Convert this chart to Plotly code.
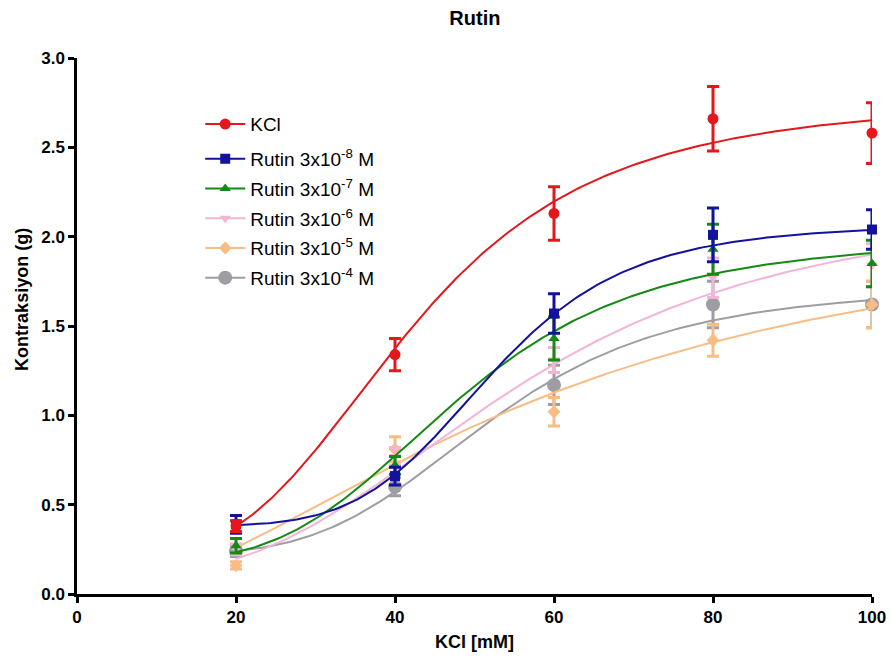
import numpy as np
import plotly.graph_objects as go

# ---- data ----
kcl_mM = [20, 40, 60, 80, 100]

series_names = ["KCl",
                "Rutin 3x10<sup>-8</sup> M",
                "Rutin 3x10<sup>-7</sup> M",
                "Rutin 3x10<sup>-6</sup> M",
                "Rutin 3x10<sup>-5</sup> M",
                "Rutin 3x10<sup>-4</sup> M"]

kcl_mean   = [0.38, 1.34, 2.13, 2.66, 2.58]
kcl_sem    = [0.03, 0.09, 0.15, 0.18, 0.17]
r8_mean    = [0.39, 0.66, 1.57, 2.01, 2.04]
r8_sem     = [0.05, 0.05, 0.11, 0.15, 0.11]
r7_mean    = [0.27, 0.72, 1.43, 1.93, 1.85]
r7_sem     = [0.04, 0.05, 0.12, 0.14, 0.13]
r6_mean    = [0.25, 0.77, 1.31, 1.77, 1.84]
r6_sem     = [0.03, 0.05, 0.07, 0.11, 0.12]
r5_mean    = [0.16, 0.81, 1.02, 1.42, 1.62]
r5_sem     = [0.02, 0.07, 0.08, 0.09, 0.13]
r4_mean    = [0.24, 0.60, 1.17, 1.62, 1.62]
r4_sem     = [0.03, 0.05, 0.11, 0.13, 0.13]

# fitted curve parameters (bottom, top, K, hill)
fit_bottom = [0.20, 0.38, 0.18, 0.10, 0.00, 0.22]
fit_top    = [2.77, 2.07, 2.00, 2.20, 2.15, 1.72]
fit_K      = [42, 52, 48, 55, 57, 52]
fit_hill   = [3.5, 6.0, 4.0, 3.0, 1.9, 4.5]

means = [kcl_mean, r8_mean, r7_mean, r6_mean, r5_mean, r4_mean]
sems = [kcl_sem, r8_sem, r7_sem, r6_sem, r5_sem, r4_sem]

colors = ["#e3171c", "#12129c", "#138a13", "#f2b5d6", "#f7bd85", "#9d9da3"]
symbols = ["circle", "square", "triangle-up", "triangle-down", "diamond", "circle"]
msizes = [11, 10, 10, 10, 10, 14]

fig = go.Figure()

xs = np.linspace(20, 100, 200)
draw_order = [5, 4, 3, 2, 1, 0]
for i in draw_order:
    b, t, k, h = fit_bottom[i], fit_top[i], fit_K[i], fit_hill[i]
    ys = b + (t - b) * xs ** h / (xs ** h + k ** h)
    fig.add_trace(go.Scatter(x=xs, y=ys, mode="lines",
                             line=dict(color=colors[i], width=2),
                             showlegend=False, hoverinfo="skip", cliponaxis=False))
    fig.add_trace(go.Scatter(x=kcl_mM, y=means[i], mode="markers",
                             marker=dict(color=colors[i], symbol=symbols[i], size=msizes[i]),
                             error_y=dict(type="data", array=sems[i], color=colors[i],
                                          thickness=3, width=6),
                             showlegend=False, cliponaxis=False))

for i in range(6):
    fig.add_trace(go.Scatter(x=[None], y=[None], mode="lines+markers",
                             name=series_names[i],
                             legend="legend" if i == 0 else "legend2",
                             legendgroup="g%d" % i,
                             line=dict(color=colors[i], width=2),
                             marker=dict(color=colors[i], symbol=symbols[i], size=msizes[i])))

font_fam = "Arial, Liberation Sans"
axis_common = dict(showline=True, linecolor="black", linewidth=2.5,
                   ticks="outside", tickcolor="black", tickwidth=2.5, ticklen=6,
                   showgrid=False, zeroline=False, automargin=False,
                   tickfont=dict(family=font_fam, size=17, color="black", weight="bold"))

legend_common = dict(xanchor="left", yanchor="top", traceorder="grouped",
                     tracegroupgap=2,
                     font=dict(family=font_fam, size=19, color="black"),
                     bgcolor="rgba(0,0,0,0)", itemwidth=40)

fig.update_layout(
    width=891, height=661,
    margin=dict(l=77, r=19, t=58, b=67),
    paper_bgcolor="white", plot_bgcolor="white",
    title=dict(text="<b>Rutin</b>", x=0.533, xanchor="center", y=0.973, yanchor="middle",
               font=dict(family=font_fam, size=20, color="black")),
    xaxis=dict(range=[0, 100], tickvals=[0, 20, 40, 60, 80, 100],
               title=dict(text="<b>KCl [mM]</b>", standoff=10,
                          font=dict(family=font_fam, size=18, color="black")),
               **axis_common),
    yaxis=dict(range=[0, 3.0], tickvals=[0, 0.5, 1.0, 1.5, 2.0, 2.5, 3.0], tickformat=".1f",
               **axis_common),
    legend=dict(x=0.155, y=0.912, **legend_common),
    legend2=dict(x=0.155, y=0.847, **legend_common),
    annotations=[dict(text="<b>Kontraksiyon (g)</b>", xref="paper", yref="paper",
                      x=-0.069, y=0.549, xanchor="center", yanchor="middle",
                      textangle=-90, showarrow=False,
                      font=dict(family=font_fam, size=18, color="black"))],
)

fig.write_html("out.html")
